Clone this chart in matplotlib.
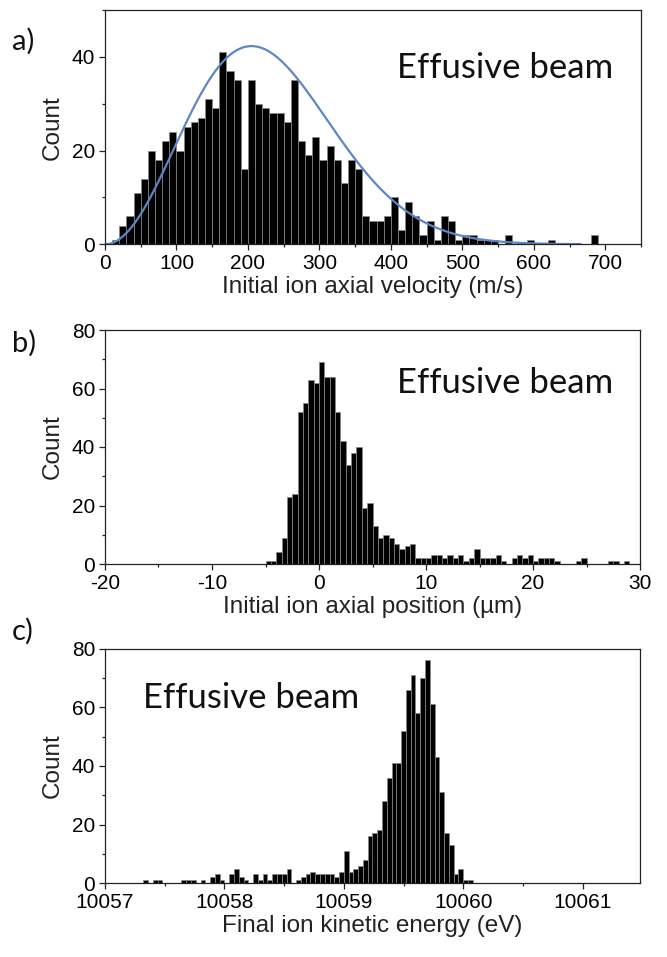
import numpy as np
import matplotlib
matplotlib.use("Agg")
import matplotlib.pyplot as plt
from matplotlib.ticker import MultipleLocator

# ---------------- data ----------------
# Panel a: initial ion axial velocity histogram (bin width 10 m/s, bins start at 0)
vel_bin_start = 0
vel_bin_width = 10
vel_counts = [0, 1, 4, 6, 11, 14, 20, 18, 22, 24,
              20, 25, 26, 27, 31, 29, 41, 37, 35, 16,
              35, 30, 29, 28, 28, 26, 35, 22, 19, 23,
              18, 21, 18, 13, 18, 16, 6, 5, 5, 6,
              10, 3, 9, 6, 2, 5, 1, 6, 5, 1,
              2, 2, 1, 1, 1, 0, 2, 0, 0, 1,
              0, 0, 1, 0, 0, 0, 0, 0, 2, 0]
# fitted velocity distribution  (v/a)^2 exp(1-(v/a)^2), scaled to peak
fit_peak_velocity = 205.0
fit_peak_count = 42.3
fit_v_max = 665.0

# Panel b: initial ion axial position histogram (bin width 0.5 um)
pos_bin_start = -5.0
pos_bin_width = 0.5
pos_counts = [1, 1, 4, 9, 23, 24, 52, 55, 63, 62,
              69, 64, 64, 52, 42, 34, 38, 40, 19, 21,
              13, 9, 10, 9, 7, 5, 6, 7, 2, 2,
              2, 3, 3, 2, 3, 2, 3, 1, 2, 5,
              2, 2, 2, 3, 1, 0, 2, 3, 2, 3,
              1, 2, 2, 2, 1, 0, 0, 0, 1, 2,
              0, 0, 0, 0, 1, 1, 0, 1, 0, 0]

# Panel c: final ion kinetic energy histogram (bin width 0.04 eV)
ke_bin_start = 10057.0
ke_bin_width = 0.04
ke_counts = [0, 0, 0, 0, 0, 0, 0, 0, 1, 0,
             1, 1, 0, 0, 0, 0, 1, 1, 1, 0,
             1, 0, 2, 3, 1, 0, 3, 5, 2, 1,
             0, 3, 1, 3, 1, 3, 3, 3, 5, 0,
             1, 2, 3, 4, 3, 3, 3, 3, 2, 4,
             11, 4, 5, 6, 8, 16, 17, 18, 28, 36,
             41, 41, 52, 66, 71, 58, 70, 76, 61, 43,
             31, 17, 13, 3, 5, 1, 1]

panel_letters = ["a)", "b)", "c)"]
annotation = "Effusive beam"
xlabels = ["Initial ion axial velocity (m/s)",
           "Initial ion axial position (\u00b5m)",
           "Final ion kinetic energy (eV)"]
ylabel = "Count"

# ---------------- layout ----------------
W, H = 667, 957
plt.rcParams['font.family'] = ['Liberation Sans', 'DejaVu Sans']
plt.rcParams['axes.unicode_minus'] = False
fig = plt.figure(figsize=(W / 100, H / 100), dpi=100)

def add_ax(l, r, t, b):
    return fig.add_axes([l / W, 1 - b / H, (r - l) / W, (b - t) / H])

axA = add_ax(105, 641, 10, 244.3)
axB = add_ax(105, 640, 330, 564)
axC = add_ax(105, 640, 648.5, 883.3)

bar_kw = dict(align='edge', color='black', edgecolor='#8a8a8a', linewidth=0.5)

def draw_hist(ax, start, width, counts):
    counts = np.asarray(counts, dtype=float)
    edges = start + width * np.arange(len(counts))
    ax.bar(edges, counts, width=width, **bar_kw)

draw_hist(axA, vel_bin_start, vel_bin_width, vel_counts)
v = np.linspace(0, fit_v_max, 400)
u = v / fit_peak_velocity
axA.plot(v, fit_peak_count * u ** 2 * np.exp(1 - u ** 2), color='#5B87C5', lw=1.6)
draw_hist(axB, pos_bin_start, pos_bin_width, pos_counts)
draw_hist(axC, ke_bin_start, ke_bin_width, ke_counts)

axA.set_xlim(0, 750)
axA.set_ylim(0, 50)
axA.xaxis.set_major_locator(MultipleLocator(100))
axA.xaxis.set_minor_locator(MultipleLocator(50))
axA.yaxis.set_major_locator(MultipleLocator(20))
axA.yaxis.set_minor_locator(MultipleLocator(10))

axB.set_xlim(-20, 30)
axB.set_ylim(0, 80)
axB.xaxis.set_major_locator(MultipleLocator(10))
axB.xaxis.set_minor_locator(MultipleLocator(5))
axB.yaxis.set_major_locator(MultipleLocator(20))
axB.yaxis.set_minor_locator(MultipleLocator(10))

axC.set_xlim(10057, 10061.48)
axC.set_ylim(0, 80)
axC.xaxis.set_major_locator(MultipleLocator(1))
axC.xaxis.set_minor_locator(MultipleLocator(0.5))
axC.yaxis.set_major_locator(MultipleLocator(20))
axC.yaxis.set_minor_locator(MultipleLocator(10))
axC.ticklabel_format(axis='x', useOffset=False, style='plain')

tick_fs = 15
label_fs = 17.5
for ax, xl in zip([axA, axB, axC], xlabels):
    for s in ax.spines.values():
        s.set_linewidth(0.9)
        s.set_color('#222222')
    ax.tick_params(which='major', direction='out', length=4, width=0.9,
                   labelsize=tick_fs, pad=3, color='#222222')
    ax.tick_params(which='minor', direction='out', length=2.5, width=0.9,
                   color='#222222')
    ax.tick_params(top=False, right=False, which='both')
    ax.set_xlabel(xl, fontsize=label_fs, labelpad=2, color='#222222')
    ax.set_ylabel(ylabel, fontsize=label_fs, labelpad=6, color='#222222')

# annotations
txtA = axA.text(0.746, 0.71, annotation, transform=axA.transAxes, ha='center',
                va='baseline', family='Lato', fontsize=22, color='#111111')
txtB = axB.text(0.748, 0.731, annotation, transform=axB.transAxes, ha='center',
                va='baseline', family='Lato', fontsize=22, color='#111111')
txtC = axC.text(0.071, 0.747, annotation, transform=axC.transAxes, ha='left',
                va='baseline', family='Lato', fontsize=22, color='#111111')

fig.canvas.draw()
r = fig.canvas.get_renderer()
w = txtA.get_window_extent(r).width
fs = 22 * 216 / w
for t in (txtA, txtB, txtC):
    t.set_fontsize(fs)

for letter, yb in zip(panel_letters, [50, 352, 640]):
    fig.text(12 / W, 1 - yb / H, letter, ha='left', va='baseline',
             family='Lato', fontsize=21, color='#111111')

fig.savefig("out.png", dpi=100)
